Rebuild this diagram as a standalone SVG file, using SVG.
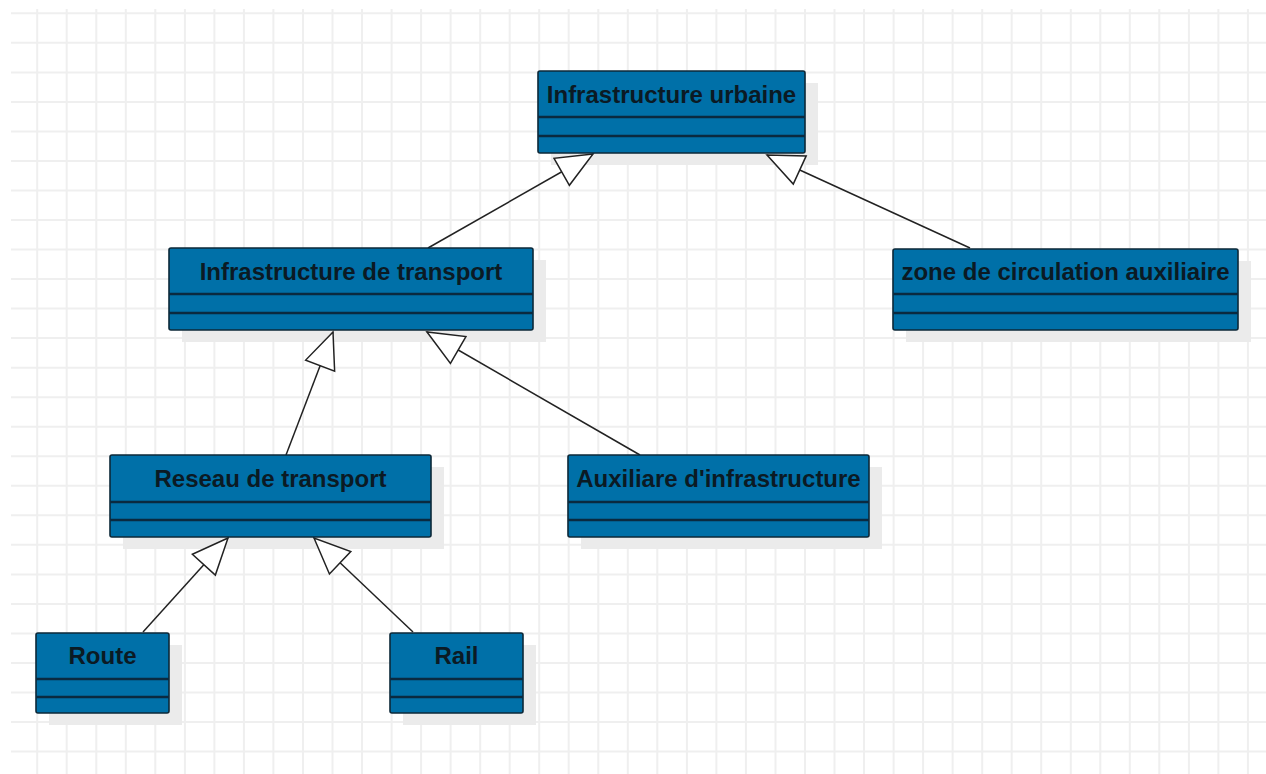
<svg xmlns="http://www.w3.org/2000/svg" width="1266" height="774" viewBox="0 0 1266 774">
<style>
.grid{fill:none;stroke:#efefef;stroke-width:2}
.shadow{fill:#ebebeb}
.box{fill:#0070a8;stroke:#0c2838;stroke-width:1.6}
.div{stroke:#0a2a40;stroke-width:2.5}
.lbl{font-family:"Liberation Sans",Arial,sans-serif;font-weight:bold;font-size:24px;fill:#0b1a24;text-anchor:middle}
.edge{fill:none;stroke:#222;stroke-width:1.5}
</style>
<defs>
<marker id="gen" markerUnits="userSpaceOnUse" markerWidth="42" markerHeight="36" viewBox="0 0 42 36" refX="39" refY="18" orient="auto">
<path d="M39,18 L3,2.5 L3,33.5 Z" fill="#fff" stroke="#222" stroke-width="1.5" stroke-linejoin="miter"/>
</marker>
</defs>
<rect width="1266" height="774" fill="#fff"/>
<path class="grid" d="M37.2,9V774M66.7,9V774M96.3,9V774M125.8,9V774M155.3,9V774M184.9,9V774M214.4,9V774M243.9,9V774M273.4,9V774M303,9V774M332.5,9V774M362,9V774M391.6,9V774M421.1,9V774M450.6,9V774M480.2,9V774M509.7,9V774M539.2,9V774M568.7,9V774M598.3,9V774M627.8,9V774M657.3,9V774M686.9,9V774M716.4,9V774M745.9,9V774M775.5,9V774M805,9V774M834.5,9V774M864,9V774M893.6,9V774M923.1,9V774M952.6,9V774M982.2,9V774M1011.7,9V774M1041.2,9V774M1070.8,9V774M1100.3,9V774M1129.8,9V774M1159.3,9V774M1188.9,9V774M1218.4,9V774M1247.9,9V774M11,13.3H1266M11,42.8H1266M11,72.4H1266M11,101.9H1266M11,131.4H1266M11,161H1266M11,190.5H1266M11,220H1266M11,249.5H1266M11,279.1H1266M11,308.6H1266M11,338.1H1266M11,367.7H1266M11,397.2H1266M11,426.7H1266M11,456.3H1266M11,485.8H1266M11,515.3H1266M11,544.8H1266M11,574.4H1266M11,603.9H1266M11,633.4H1266M11,663H1266M11,692.5H1266M11,722H1266M11,751.6H1266"/>

<g id="shadows">
<rect class="shadow" x="551" y="83" width="267" height="82"/>
<rect class="shadow" x="182" y="260" width="364" height="82"/>
<rect class="shadow" x="906" y="261" width="345" height="81"/>
<rect class="shadow" x="123" y="467" width="321" height="82"/>
<rect class="shadow" x="581" y="467" width="301" height="82"/>
<rect class="shadow" x="49" y="645" width="133" height="80"/>
<rect class="shadow" x="403" y="645" width="133" height="80"/>
</g>

<g id="connectors">
<line class="edge" x1="428" y1="248" x2="593" y2="154" marker-end="url(#gen)"/>
<line class="edge" x1="970" y1="248" x2="767" y2="155" marker-end="url(#gen)"/>
<line class="edge" x1="286" y1="455" x2="333" y2="332" marker-end="url(#gen)"/>
<line class="edge" x1="640" y1="455" x2="427" y2="332" marker-end="url(#gen)"/>
<line class="edge" x1="143" y1="632" x2="228" y2="538" marker-end="url(#gen)"/>
<line class="edge" x1="413" y1="632" x2="314" y2="538" marker-end="url(#gen)"/>
</g>

<g id="infrastructure-urbaine">
<rect class="box" x="538" y="71" width="267" height="82" rx="2"/>
<line class="div" x1="538" y1="117" x2="805" y2="117"/>
<line class="div" x1="538" y1="136" x2="805" y2="136"/>
<text class="lbl" x="671.5" y="103">Infrastructure urbaine</text>
</g>

<g id="infrastructure-de-transport">
<rect class="box" x="169" y="248" width="364" height="82" rx="2"/>
<line class="div" x1="169" y1="294" x2="533" y2="294"/>
<line class="div" x1="169" y1="313" x2="533" y2="313"/>
<text class="lbl" x="351" y="280">Infrastructure de transport</text>
</g>

<g id="zone-de-circulation-auxiliaire">
<rect class="box" x="893" y="249" width="345" height="81" rx="2"/>
<line class="div" x1="893" y1="294" x2="1238" y2="294"/>
<line class="div" x1="893" y1="313" x2="1238" y2="313"/>
<text class="lbl" x="1065.5" y="280">zone de circulation auxiliaire</text>
</g>

<g id="reseau-de-transport">
<rect class="box" x="110" y="455" width="321" height="82" rx="2"/>
<line class="div" x1="110" y1="502" x2="431" y2="502"/>
<line class="div" x1="110" y1="520" x2="431" y2="520"/>
<text class="lbl" x="270.5" y="487">Reseau de transport</text>
</g>

<g id="auxiliare-d-infrastructure">
<rect class="box" x="568" y="455" width="301" height="82" rx="2"/>
<line class="div" x1="568" y1="502" x2="869" y2="502"/>
<line class="div" x1="568" y1="520" x2="869" y2="520"/>
<text class="lbl" x="718.5" y="487">Auxiliare d'infrastructure</text>
</g>

<g id="route">
<rect class="box" x="36" y="633" width="133" height="80" rx="2"/>
<line class="div" x1="36" y1="679" x2="169" y2="679"/>
<line class="div" x1="36" y1="697" x2="169" y2="697"/>
<text class="lbl" x="102.5" y="664">Route</text>
</g>

<g id="rail">
<rect class="box" x="390" y="633" width="133" height="80" rx="2"/>
<line class="div" x1="390" y1="679" x2="523" y2="679"/>
<line class="div" x1="390" y1="697" x2="523" y2="697"/>
<text class="lbl" x="456.5" y="664">Rail</text>
</g>
</svg>
